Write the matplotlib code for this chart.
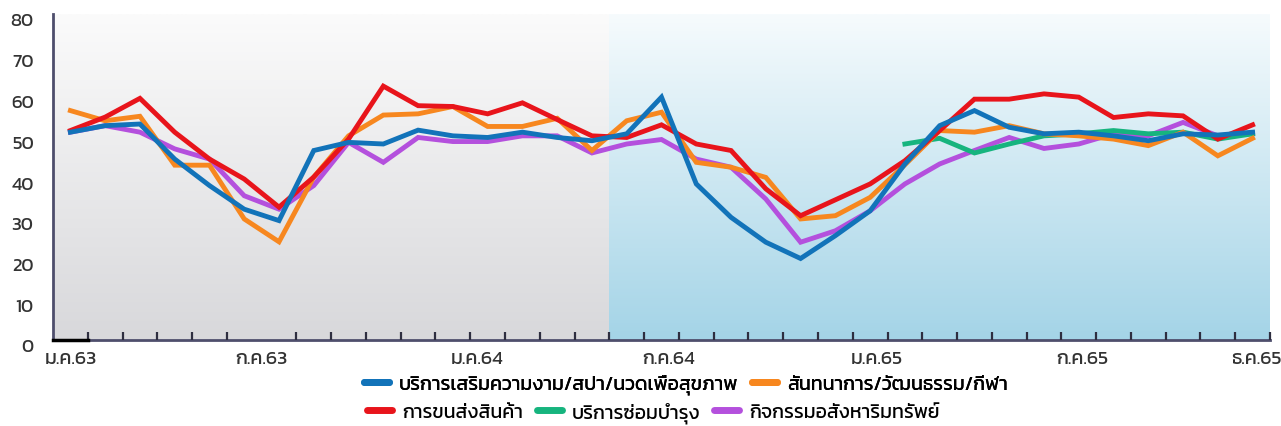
import numpy as np
from matplotlib import pyplot as plt
from matplotlib import font_manager
from matplotlib.ft2font import FT2Font
from matplotlib.colors import LinearSegmentedColormap
from matplotlib.lines import Line2D
import matplotlib.transforms as mtransforms

# monthly index values (35 points shown on the chart)
beauty_spa = [51.0, 52.6, 53.0, 44.4, 37.9, 32.1, 29.3, 46.5, 48.5, 48.1, 51.5, 50.1,
              49.7, 51.0, 49.7, 48.9, 50.6, 59.6, 38.3, 30.1, 24.0, 20.0, 25.6, 31.7,
              43.2, 52.6, 56.3, 52.2, 50.6, 51.0, 50.1, 48.9, 50.6, 50.3, 51.0]
recreation = [56.3, 53.8, 54.9, 42.9, 42.9, 29.7, 24.1, 40.0, 50.1, 55.2, 55.5, 57.3,
              52.4, 52.4, 54.4, 46.5, 53.8, 55.9, 43.6, 42.4, 39.9, 29.7, 30.5, 35.0,
              43.0, 51.4, 51.0, 52.6, 50.6, 50.1, 49.3, 47.7, 51.0, 45.2, 49.5]
transport = [51.4, 54.7, 59.3, 51.0, 44.4, 39.5, 32.6, 40.0, 49.3, 62.3, 57.5, 57.3,
             55.5, 58.2, 54.1, 50.1, 49.7, 52.8, 48.1, 46.5, 37.1, 30.5, 34.4, 38.3,
             44.0, 51.4, 59.1, 59.1, 60.4, 59.6, 54.6, 55.5, 55.0, 49.3, 52.8]
repair = [np.nan] * 24 + [48.1, 49.5, 45.9, 48.1, 50.1, 50.6, 51.4, 50.6, 51.0, 49.3, 50.6]
real_estate = [51.0, 52.6, 51.0, 46.9, 44.4, 35.4, 32.1, 37.9, 48.5, 43.6, 49.7, 48.7,
               48.7, 50.1, 50.1, 45.9, 48.1, 49.2, 44.4, 42.4, 34.6, 24.0, 26.8, 31.7,
               38.3, 43.2, 46.5, 49.7, 47.0, 48.1, 50.6, 50.1, 53.4, 50.1, 50.6]

names = ['บริการเสริมความงาม/สปา/นวดเพื่อสุขภาพ', 'สันทนาการ/วัฒนธรรม/กีฬา',
         'การขนส่งสินค้า', 'บริการซ่อมบำรุง', 'กิจกรรมอสังหาริมทรัพย์']
month_labels = ['ม.ค.63', 'ก.ค.63', 'ม.ค.64', 'ก.ค.64', 'ม.ค.65', 'ก.ค.65', 'ธ.ค.65']
label_at = [0, 5.5, 11.7, 17.2, 23.2, 29.1, 34.1]
split_at = 15.5  # gray -> blue background


def thai_font():
    prefer = ['Kanit', 'Prompt', 'Noto Sans Thai', 'Noto Sans Thai Looped', 'Sarabun',
              'Loma', 'Garuda', 'Waree', 'Norasi', 'Tlwg Typo']
    found = {}
    for f in font_manager.fontManager.ttflist:
        try:
            if ord('ก') in FT2Font(f.fname).get_charmap():
                found.setdefault(f.name, f.fname)
        except Exception:
            pass
    for p in prefer:
        if p in found:
            return p
    return next(iter(found), 'DejaVu Sans')


plt.rcParams['font.family'] = [thai_font(), 'DejaVu Sans']

fig = plt.figure(figsize=(12.81, 4.27), dpi=100)
ax = fig.add_axes([53 / 1281, 1 - 341 / 427, 1217 / 1281, 326 / 427])

x = np.arange(len(beauty_spa))
grad = np.linspace(0, 1, 256).reshape(-1, 1)
gray_cmap = LinearSegmentedColormap.from_list('gray_bg', ['#d8d8db', '#fbfbfb'])
blue_cmap = LinearSegmentedColormap.from_list('blue_bg', ['#a4d4e7', '#f6fbfd'])
ax.imshow(grad, extent=(-0.5, split_at, 0, 80), origin='lower', cmap=gray_cmap,
          aspect='auto', zorder=0)
ax.imshow(grad, extent=(split_at, len(x) - 0.5, 0, 80), origin='lower', cmap=blue_cmap,
          aspect='auto', zorder=0)

colors = ['#1273b9', '#f7871f', '#e8141b', '#16b47e', '#b450dd']
series = [beauty_spa, recreation, transport, repair, real_estate]
zorders = [6, 4, 5, 3, 2]
lw = 3.5
for vals, c, z in zip(series, colors, zorders):
    ax.plot(x, vals, color=c, lw=lw, zorder=z, solid_joinstyle='miter')

ax.set_xlim(-0.5, len(x) - 0.5)
ax.set_ylim(0, 80)
ax.set_yticks(range(0, 81, 10))
ax.set_xticks(label_at)
ax.set_xticklabels(month_labels)
ax.set_xticks(np.arange(0.5, len(x), 1), minor=True)
ax.tick_params(axis='x', which='major', length=0, pad=7, labelsize=14, labelcolor='#333333')
ax.tick_params(axis='x', which='minor', direction='in', length=6, width=1.6, color='#2e2e40')
ax.tick_params(axis='y', length=0, pad=14, labelsize=13.5, labelcolor='#333333')
for lab in ax.get_yticklabels():
    lab.set_transform(lab.get_transform() + mtransforms.ScaledTranslation(0, -5 / 100, fig.dpi_scale_trans))
ax.xaxis.set_zorder(7)

for s in ['top', 'right']:
    ax.spines[s].set_visible(False)
for s in ['left', 'bottom']:
    ax.spines[s].set_color('#4e4e6c')
    ax.spines[s].set_linewidth(2)
    ax.spines[s].set_zorder(7)
ax.plot([-0.5, 0.5], [0, 0], color='black', lw=2.5, clip_on=False, zorder=8)

handles = [Line2D([], [], color=c, lw=5, solid_capstyle='round') for c in colors]
leg_kw = dict(loc='center', frameon=False, fontsize=14, handlelength=1.3,
              handletextpad=0.5, columnspacing=0.7, borderpad=0)
leg1 = fig.legend(handles[:2], names[:2], ncol=2,
                  bbox_to_anchor=(0.5355, 1 - 385 / 427), **leg_kw)
fig.legend(handles[2:], names[2:], ncol=3,
           bbox_to_anchor=(0.51, 1 - 413 / 427), **leg_kw)
fig.add_artist(leg1)

plt.savefig('out.png', dpi=100)
